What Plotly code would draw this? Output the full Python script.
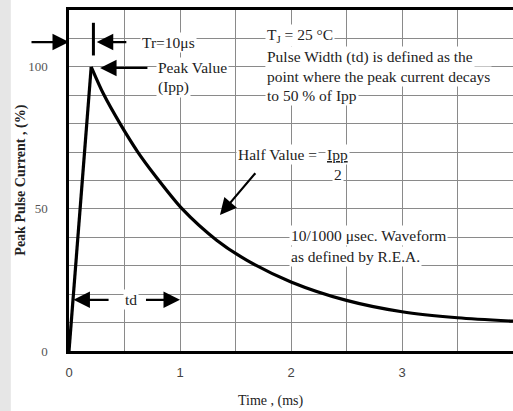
import plotly.graph_objects as go

# Data
rise_time = [0, 0.2]
rise_current = [0, 100]
decay_time = [0.2, 0.31, 0.46, 0.62, 0.78, 1.02, 1.33, 1.6, 2.0, 2.5, 3.0, 3.5, 4.0]
decay_current = [100, 90.5, 80, 70, 61.5, 50, 39, 32, 24.3, 17.8, 13.8, 11.7, 10.5]

x_ticks = [0, 1, 2, 3, 4]
y_ticks = [0, 50, 100]

SERIF = "Liberation Serif"
SANS = "Liberation Sans"
FS = 15.5

fig = go.Figure()
fig.add_trace(go.Scatter(x=rise_time, y=rise_current, mode="lines",
                         line=dict(color="black", width=3.2), showlegend=False,
                         hoverinfo="skip"))
fig.add_trace(go.Scatter(x=decay_time, y=decay_current, mode="lines",
                         line=dict(color="black", width=3.2, shape="spline", smoothing=0.8),
                         showlegend=False, hoverinfo="skip"))

ann = []

def text(x, y, s, size=FS, xanchor="left", font=SERIF, bg="white"):
    ann.append(dict(x=x, y=y, xref="x", yref="y", text=s, showarrow=False,
                    xanchor=xanchor, yanchor="middle",
                    font=dict(family=font, size=size, color="#222"),
                    bgcolor=bg, borderpad=1))

def arrow(x, y, ax, ay):
    ann.append(dict(x=x, y=y, ax=ax, ay=ay, xref="x", yref="y", axref="x", ayref="y",
                    text="", showarrow=True, arrowhead=2, arrowsize=1.5,
                    arrowwidth=2.2, arrowcolor="black"))

# Tr = 10us
ann.append(dict(x=0, y=108.7, ax=-39, ay=0, xref="x", yref="y", text="",
                showarrow=True, arrowhead=2, arrowsize=1.5, arrowwidth=2.2,
                arrowcolor="black"))
arrow(0.25, 108.7, 0.53, 108.7)
text(0.64, 108.7, "Tr=10μs")

# Peak value
arrow(0.28, 99.6, 0.72, 99.6)
text(0.78, 99.6, "Peak Value")
text(0.78, 92.9, "(Ipp)")

# TJ block
text(1.77, 111.2, "T<sub>J</sub> = 25 °C")
text(1.77, 103.5, "Pulse Width (td) is defined as the")
text(1.77, 96.5, "point where the peak current decays")
text(1.77, 89.8, "to 50 % of Ipp")

# Half value
text(1.5, 69, "Half Value =")
text(2.42, 69, "<u>Ipp</u>", xanchor="center")
text(2.42, 62, "2", xanchor="center")
arrow(1.36, 47.9, 1.69, 63.1)

# Waveform note
text(1.98, 40.5, "10/1000 μsec. Waveform")
text(1.98, 33.4, "as defined by R.E.A.")

# td
arrow(0.04, 18, 0.37, 18)
text(0.56, 18, "td", xanchor="center")
arrow(1.0, 18, 0.68, 18)

# Axis titles
ann.append(dict(x=-0.11, y=0.5, xref="paper", yref="paper", text="<b>Peak Pulse Current , (%)</b>",
                textangle=-90, showarrow=False, xanchor="center", yanchor="middle",
                font=dict(family=SERIF, size=14, color="#222")))
ann.append(dict(x=0.455, y=-0.148, xref="paper", yref="paper", text="Time , (ms)",
                showarrow=False, xanchor="center", yanchor="middle",
                font=dict(family=SERIF, size=14, color="#222")))

shapes = [
    dict(type="line", xref="x", yref="y", x0=0.22, x1=0.22, y0=104, y1=115.5,
         line=dict(color="black", width=3)),
    dict(type="rect", xref="paper", yref="paper", x0=-0.16, x1=-0.131, y0=-0.3, y1=1.1,
         fillcolor="#e6e6e6", line=dict(width=0), layer="above"),
]

fig.update_layout(
    width=513, height=411,
    margin=dict(l=69, r=0, t=10, b=60),
    paper_bgcolor="white", plot_bgcolor="white",
    annotations=ann, shapes=shapes,
    xaxis=dict(range=[0, 4.0], tickvals=x_ticks, ticktext=[str(v) for v in x_ticks],
               showgrid=True, gridcolor="#8a8a8a", gridwidth=1,
               minor=dict(dtick=0.5, tick0=0, showgrid=True, gridcolor="#8a8a8a", gridwidth=1),
               showline=True, linecolor="black", linewidth=2.5, mirror=True,
               zeroline=False, ticks="", ticklabelstandoff=8,
               tickfont=dict(family=SANS, size=13, color="#444")),
    yaxis=dict(range=[0, 120], tickvals=y_ticks, ticktext=[str(v) for v in y_ticks],
               showgrid=True, gridcolor="#8a8a8a", gridwidth=1,
               minor=dict(dtick=10, tick0=0, showgrid=True, gridcolor="#8a8a8a", gridwidth=1),
               showline=True, linecolor="black", linewidth=2.5, mirror=False,
               zeroline=False, ticks="", ticklabelstandoff=16,
               tickfont=dict(family=SERIF, size=13, color="#555")),
)

fig.write_html("out.html", config={"displayModeBar": False},
               post_script="document.body.style.margin='0px';")
